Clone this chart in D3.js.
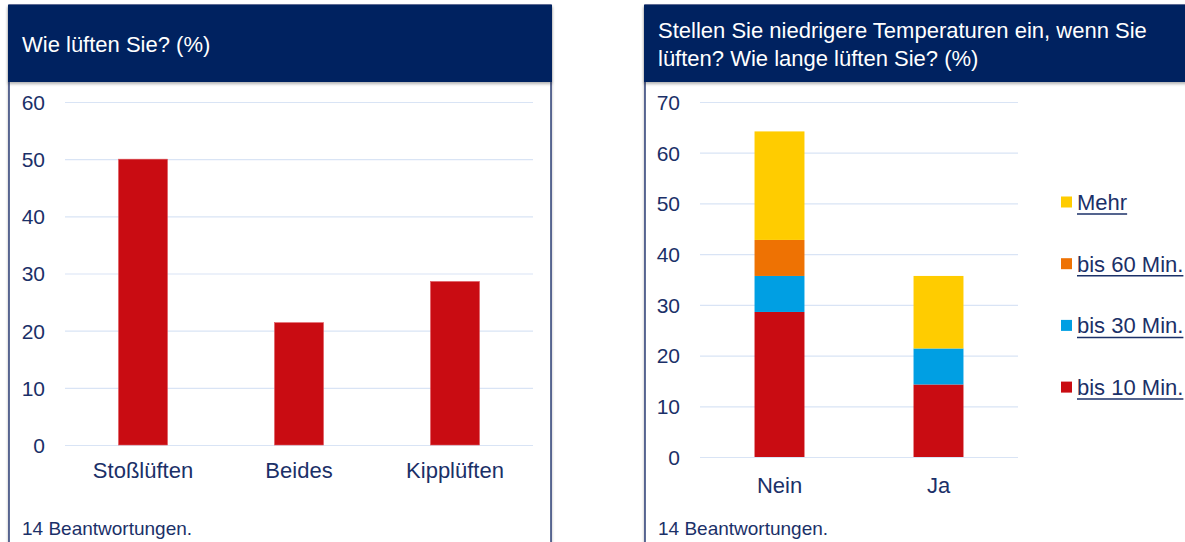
<!DOCTYPE html>
<html><head><meta charset="utf-8">
<script src="https://cdn.jsdelivr.net/npm/d3@7"></script>
<style>
html,body{margin:0;padding:0;background:#fff;}
svg{display:block;font-family:"Liberation Sans",Arial,sans-serif;}
</style></head>
<body>
<svg id="c" width="1185" height="542"></svg>
<script>
// ---- data ----
const categories1 = ["Stoßlüften", "Beides", "Kipplüften"];
const values1 = [50, 21.4, 28.6];
const ticks1 = [0, 10, 20, 30, 40, 50, 60];

const categories2 = ["Nein", "Ja"];
const seriesNames = ["bis 10 Min.", "bis 30 Min.", "bis 60 Min.", "Mehr"];
const bis10 = [28.6, 14.3];
const bis30 = [7.1, 7.1];
const bis60 = [7.1, 0];
const mehr = [21.4, 14.3];
const ticks2 = [0, 10, 20, 30, 40, 50, 60, 70];
const seriesColors = ["#C90C12", "#009FE3", "#EE7203", "#FFCC00"];

const title1 = "Wie lüften Sie? (%)";
const title2a = "Stellen Sie niedrigere Temperaturen ein, wenn Sie";
const title2b = "lüften? Wie lange lüften Sie? (%)";
const footer = "14 Beantwortungen.";

// ---- styles ----
const navy = "#002060";
const txt = "#1B3068";
const grid = "#D9E4F5";
const FF = "Liberation Sans, Arial, sans-serif";

const svg = d3.select("#c");
const defs = svg.append("defs");
const f = defs.append("filter").attr("id","sh").attr("x","-5%").attr("y","-5%").attr("width","110%").attr("height","120%");
f.append("feDropShadow").attr("dx",0).attr("dy",2).attr("stdDeviation",1.5).attr("flood-color","#000").attr("flood-opacity",0.3);

function panel(x0, x1, titleLines, titleBaselines) {
  svg.append("rect").attr("x", x0).attr("y", 5).attr("width", x1 - x0).attr("height", 560)
    .attr("fill", "#fff").attr("stroke", "#2B3F75").attr("stroke-width", 1.5).attr("filter","url(#sh)");
  svg.append("rect").attr("x", x0 - 1).attr("y", 5).attr("width", x1 - x0 + 2).attr("height", 77)
    .attr("fill", navy).attr("filter","url(#sh)");
  titleLines.forEach((t, i) => {
    svg.append("text").attr("x", x0 + 13).attr("y", titleBaselines[i])
      .attr("fill", "#fff").attr("font-size", 22).text(t);
  });
  svg.append("text").attr("x", x0 + 13).attr("y", 535).attr("fill", txt)
    .attr("font-size", 19).text(footer);
}

panel(9, 551, [title1], [52]);
panel(645, 1200, [title2a, title2b], [38, 66]);

// ---- chart 1 ----
{
  const x = d3.scaleBand().domain(categories1).range([65, 533]).paddingInner(0.686).paddingOuter(0.343);
  const y = d3.scaleLinear().domain([0, 60]).range([445, 102]);
  const g = svg.append("g");
  const ya = d3.axisLeft(y).tickValues(ticks1).tickSize(-(533 - 65)).tickPadding(20);
  const gy = g.append("g").attr("transform", "translate(65,0)").call(ya);
  gy.select(".domain").remove();
  gy.selectAll("line").attr("stroke", grid).attr("stroke-width", 1.2);
  gy.selectAll("text").attr("fill", txt).attr("font-size", 21).attr("font-family", FF).attr("dy", "0.35em");
  g.selectAll("rect.b").data(values1).join("rect").attr("class", "b")
    .attr("x", (d, i) => x(categories1[i])).attr("width", x.bandwidth())
    .attr("y", d => y(d)).attr("height", d => y(0) - y(d))
    .attr("fill", "#C90C12").attr("stroke", "#E0585C").attr("stroke-width", 0.6);
  const xa = d3.axisBottom(x).tickSize(0).tickPadding(17);
  const gx = g.append("g").attr("transform", "translate(0,445)").call(xa);
  gx.select(".domain").remove();
  gx.selectAll("text").attr("fill", txt).attr("font-size", 22).attr("font-family", FF);
}

// ---- chart 2 ----
{
  const x = d3.scaleBand().domain(categories2).range([700, 1018]).paddingInner(0.686).paddingOuter(0.343);
  const y = d3.scaleLinear().domain([0, 70]).range([457, 102]);
  const g = svg.append("g");
  const ya = d3.axisLeft(y).tickValues(ticks2).tickSize(-(1018 - 700)).tickPadding(20);
  const gy = g.append("g").attr("transform", "translate(700,0)").call(ya);
  gy.select(".domain").remove();
  gy.selectAll("line").attr("stroke", grid).attr("stroke-width", 1.2);
  gy.selectAll("text").attr("fill", txt).attr("font-size", 21).attr("font-family", FF).attr("dy", "0.35em");

  const rows = categories2.map((c, i) => ({ cat: c, "bis 10 Min.": bis10[i], "bis 30 Min.": bis30[i], "bis 60 Min.": bis60[i], "Mehr": mehr[i] }));
  const stack = d3.stack().keys(seriesNames)(rows);
  stack.forEach((s, si) => {
    g.append("g").selectAll("rect").data(s.filter(d => d[1] - d[0] > 0)).join("rect")
      .attr("x", d => x(d.data.cat)).attr("width", x.bandwidth())
      .attr("y", d => y(d[1])).attr("height", d => y(d[0]) - y(d[1]))
      .attr("fill", seriesColors[si]);
  });
  const xa = d3.axisBottom(x).tickSize(0).tickPadding(20);
  const gx = g.append("g").attr("transform", "translate(0,457)").call(xa);
  gx.select(".domain").remove();
  gx.selectAll("text").attr("fill", txt).attr("font-size", 22).attr("font-family", FF);

  // legend (top to bottom: Mehr, bis 60, bis 30, bis 10)
  const legOrder = seriesNames.map((n, i) => ({ n, c: seriesColors[i] })).reverse();
  const lg = svg.append("g");
  legOrder.forEach((d, i) => {
    const cy = 202 + i * 61.7;
    lg.append("rect").attr("x", 1061).attr("y", cy - 5.5).attr("width", 11).attr("height", 11).attr("fill", d.c);
    const t = lg.append("text").attr("x", 1077).attr("y", cy + 8).attr("fill", txt).attr("font-size", 22).text(d.n);
    const w = t.node().getComputedTextLength();
    lg.append("line").attr("x1", 1077).attr("x2", 1077 + w).attr("y1", cy + 12).attr("y2", cy + 12)
      .attr("stroke", txt).attr("stroke-width", 1.5);
  });
}
</script>
</body></html>
